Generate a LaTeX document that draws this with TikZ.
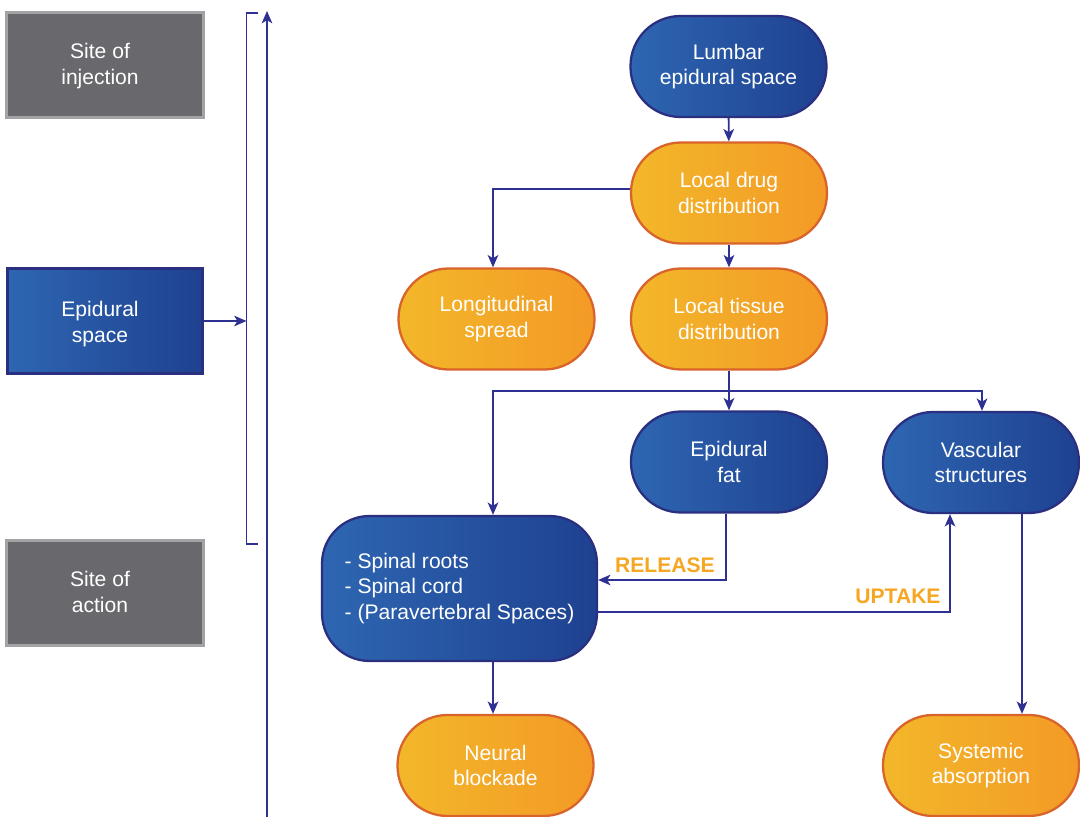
\documentclass[tikz,border=0pt]{standalone}
\usepackage{fontspec}
\setmainfont{Liberation Sans}
\usetikzlibrary{arrows.meta}
\definecolor{navy}{HTML}{2E3192}
\definecolor{bluel}{HTML}{2E66B2}
\definecolor{bluer}{HTML}{1E4190}
\definecolor{blueb}{HTML}{2B2F80}
\definecolor{orl}{HTML}{F3B72A}
\definecolor{orr}{HTML}{F39A26}
\definecolor{orb}{HTML}{D9642B}
\definecolor{grayfill}{HTML}{69686D}
\definecolor{grayb}{HTML}{A3A3A5}
\definecolor{lab}{HTML}{F5A623}
\tikzset{
  txt/.style={text=white, font=\fontsize{12}{14.6}\selectfont, align=center},
  graybox/.style={draw=grayb, line width=1.6pt, fill=grayfill, minimum width=3.94cm, minimum height=2.1cm},
  bluebox/.style={draw=blueb, line width=1.3pt, left color=bluel, right color=bluer, minimum width=3.9cm, minimum height=2.1cm},
  bluepill/.style={txt, draw=blueb, line width=1.3pt, left color=bluel, right color=bluer, rounded corners=1cm, minimum width=3.92cm, minimum height=2.02cm},
  orpill/.style={txt, draw=orb, line width=1.3pt, left color=orl, right color=orr, rounded corners=1cm, minimum width=3.92cm, minimum height=2.02cm},
  arr/.style={draw=navy, line width=1.1pt, -{Stealth[length=7pt,width=6pt,inset=1.8pt]}},
  ln/.style={draw=navy, line width=1.1pt},
  lbl/.style={text=lab, font=\fontsize{12}{14}\selectfont\bfseries}
}
\begin{document}
\begin{tikzpicture}[x=0.02cm, y=-0.02cm]
\useasboundingbox (0,0) rectangle (1080,817);
% left boxes
\node[graybox] (inj) at (105,65) {};
\node[txt] (injt) at (100,66) {Site of\\injection};
\node[bluebox] (epi) at (105,321) {};
\node[txt] (epit) at (100,324) {Epidural\\space};
\node[graybox] (act) at (105,593) {};
\node[txt] (actt) at (100,592) {Site of\\action};
% bracket
\draw[ln] (258,13) -- (246.5,13) -- (246.5,544) -- (258,544);
\coordinate (br) at (246.5,321);
\draw[arr] (epi.east) -- (br);
\coordinate (lb) at (267,820);
\coordinate (lt) at (267,11);
\draw[arr] (lb) -- (lt);
% flow nodes
\node[bluepill] (lum) at (728.5,66.5) {Lumbar\\epidural space};
\node[orpill] (ldd) at (729,193) {Local drug\\distribution};
\node[orpill] (lon) at (496.5,319) {Longitudinal\\spread};
\node[orpill] (ltd) at (729,319) {Local tissue\\distribution};
\node[bluepill] (fat) at (729,462) {Epidural\\fat};
\node[bluepill] (vas) at (981,462.5) {Vascular\\structures};
\node[txt, draw=blueb, line width=1.3pt, left color=bluel, right color=bluer, rounded corners=0.95cm, minimum width=5.5cm, minimum height=2.9cm, align=left] (sp) at (459.5,588.5) {- Spinal roots\\- Spinal cord\\- (Paravertebral Spaces)};
\node[orpill] (neu) at (495.5,765.5) {Neural\\blockade};
\node[orpill] (sys) at (981,765.5) {Systemic\\absorption};
% connectors
\draw[arr] (lum) -- (ldd);
\draw[arr] (ldd.west |- 0,189) -| (lon.north -| 493,0);
\draw[arr] (ldd) -- (ltd);
\coordinate (j) at (728,391);
\draw[arr] (ltd) -- (fat);
\draw[arr] (j) -| (sp.north -| 493,0);
\draw[arr] (j) -| (vas.north -| 982,0);
\draw[arr] (fat.south -| 726,0) |- (sp.east |- 0,580);
\draw[arr] (sp.east |- 0,612) -| (vas.south -| 950,0);
\draw[arr] (sp.south -| 493,0) -- (neu.north -| 493,0);
\draw[arr] (vas.south -| 1022,0) -- (sys.north -| 1022,0);
\node[lbl] (rel) at (665,565) {RELEASE};
\node[lbl] (upt) at (898,596) {UPTAKE};
\end{tikzpicture}
\end{document}
